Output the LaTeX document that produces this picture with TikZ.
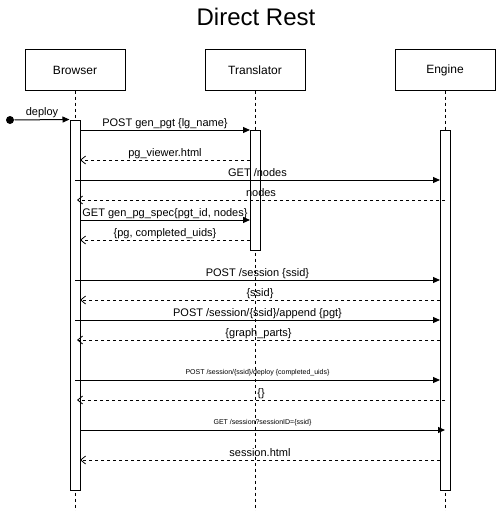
\documentclass[tikz,border=0pt]{standalone}
\usepackage{fontspec}
\setmainfont{Liberation Sans}
\usetikzlibrary{arrows.meta, positioning}

\begin{document}
\begin{tikzpicture}[x=1pt, y=-1pt, line width=1pt,
    actor/.style={draw, rectangle, minimum width=100pt, minimum height=40pt, font=\fontsize{12}{14}\selectfont},
    actbar/.style={draw, rectangle, fill=white, minimum width=10pt, inner sep=0pt},
    lifeline/.style={dash pattern=on 3pt off 3pt},
    call/.style={-{Triangle[length=7pt, width=6pt]}},
    reply/.style={dash pattern=on 3pt off 3pt, -{Straight Barb[length=5pt, width=8pt, line width=0.8pt]}},
    lbl/.style={anchor=base, yshift=4pt, inner sep=0pt, font=\fontsize{11}{13}\selectfont},
    smalllbl/.style={anchor=base, yshift=6pt, inner sep=0pt, font=\fontsize{7}{8}\selectfont}]
    \useasboundingbox (0,0) rectangle (496,511);

    % Titel
    \node[anchor=base, font=\fontsize{24}{28}\selectfont] (title) at (256,26) {Direct Rest};

    % Teilnehmer und Lebenslinien
    \foreach \name/\x in {Browser/75, Translator/255, Engine/445} {
        \node[actor] (\name) at (\x,70) {\name};
        \coordinate (\name end) at (\x,511);
        \draw[lifeline] (\name.south) -- (\name end);
    }

    % Aktivierungsbalken
    \node[actbar, minimum height=370pt] (actB) at (75,305) {};
    \node[actbar, minimum height=120pt] (actT) at (255,190) {};
    \node[actbar, minimum height=360pt] (actE) at (445,310) {};

    % Hilfspunkte auf den Lebenslinien
    \foreach \y in {130,160,180,200,220,240,280,300,320,340,380,400,430,460} {
        \coordinate (b\y) at (75,\y);
        \coordinate (t\y) at (255,\y);
        \coordinate (e\y) at (445,\y);
    }

    % Start
    \node[circle, fill, inner sep=0pt, minimum size=8pt] (start) at (10,120) {};
    \draw[call] (start) -- node[lbl] {deploy} (actB.north west);

    % Nachrichten
    \draw[call] ([xshift=5]b130) -- node[lbl] {POST gen\_pgt \{lg\_name\}} ([xshift=-5]t130);
    \draw[reply] ([xshift=-5]t160) -- node[lbl] {pg\_viewer.html} ([xshift=5]b160);
    \draw[call] (b180) -- node[lbl] {GET /nodes} ([xshift=-5]e180);
    \draw[reply] (e200) -- node[lbl] {nodes} ([xshift=2]b200);
    \draw[call] ([xshift=5]b220) -- node[lbl] {GET gen\_pg\_spec\{pgt\_id, nodes\}} ([xshift=-5]t220);
    \draw[reply] ([xshift=-5]t240) -- node[lbl] {\{pg, completed\_uids\}} ([xshift=5]b240);
    \draw[call] (b280) -- node[lbl] {POST /session \{ssid\}} ([xshift=-5]e280);
    \draw[reply] ([xshift=-5]e300) -- node[lbl] {\{ssid\}} ([xshift=5]b300);
    \draw[call] (b320) -- node[lbl] {POST /session/\{ssid\}/append \{pgt\}} ([xshift=-5]e320);
    \draw[reply] ([xshift=-5]e340) -- node[lbl] {\{graph\_parts\}} ([xshift=2]b340);
    \draw[call] (b380) -- node[smalllbl] {POST /session/\{ssid\}/deploy \{completed\_uids\}} ([xshift=-5]e380);
    \draw[reply] (e400) -- node[lbl] {\{\}} ([xshift=2]b400);
    \draw[call] ([xshift=5]b430) -- node[smalllbl] {GET /session?sessionID=\{ssid\}} (e430);
    \draw[reply] ([xshift=-5]e460) -- node[lbl] {session.html} ([xshift=5]b460);
\end{tikzpicture}
\end{document}
